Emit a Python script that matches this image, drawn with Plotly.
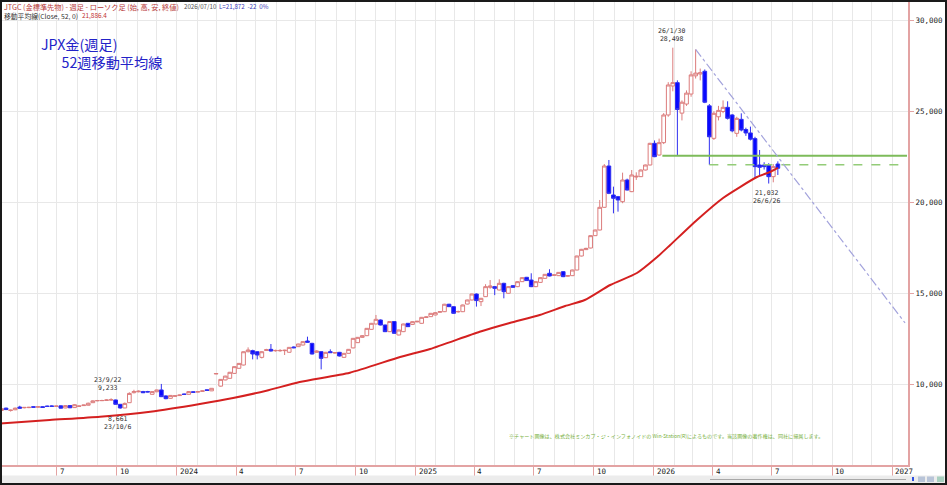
import plotly.graph_objects as go
import pandas as pd

# ---------------- data ----------------
weeks = pd.date_range("2023-04-07", periods=171, freq="W-FRI")

open_ = [
    8560, 8690, 8560, 8600, 8750, 8710, 8720, 8770, 8745, 8770,
    8800, 8810, 8790, 8815, 8700, 8830, 8720, 8790, 8830, 8850,
    8990, 9090, 9100, 9110, 9140, 9140, 8900, 8700, 8990, 9540,
    9590, 9600, 9600, 9450, 9590, 9690, 9360, 9230, 9340, 9380,
    9470, 9450, 9590, 9570, 9610, 9700, 9640, 10570, 9900, 10240,
    10330, 10600, 10880, 11060, 11790, 11850, 11790, 11480, 11860, 11920,
    11840, 11840, 11850, 11760, 12050, 12068, 12160, 12380, 12250, 11757,
    11794, 11464, 11794, 11720, 11757, 11482, 11702, 12000, 12288, 12580,
    12672, 13020, 13314, 13534, 13259, 12893, 13450, 12710, 12893, 13351,
    13290, 13430, 13351, 13670, 13717, 13810, 13960, 13990, 14400, 14266,
    13980, 13990, 14410, 14633, 14960, 14541, 14816, 15330, 15366, 15182,
    15549, 15000, 15420, 15366, 15640, 15880, 15730, 15366, 15600, 15823,
    16100, 15990, 15970, 16190, 15940, 15970, 16281, 17050, 17400, 17490,
    18168, 18479, 19725, 21996, 20403, 20311, 20036, 21226, 20586, 21390,
    21410, 21776, 22051, 23241, 22600, 23278, 24799, 26393, 26576, 24900,
    25400, 25950, 26950, 27050, 27200, 25300, 23516, 24700, 24990, 25220,
    24800, 23790, 24560, 24000, 23810, 23500, 22051, 22050, 22050, 21410,
    22106,
]
high = [
    8700, 8720, 8610, 8720, 8820, 8750, 8760, 8790, 8790, 8790,
    8830, 8840, 8820, 8840, 8860, 8850, 8910, 8830, 8870, 8990,
    9120, 9140, 9150, 9170, 9233, 9160, 8920, 9000, 9560, 9700,
    9660, 9640, 9640, 9620, 9700, 10020, 9400, 9400, 9390, 9430,
    9490, 9620, 9610, 9620, 9660, 9720, 9790, 10610, 10290, 10470,
    10680, 10980, 11170, 11800, 12030, 11900, 11820, 11820, 11950, 12215,
    11900, 11930, 11900, 12050, 12080, 12230, 12360, 12617, 12280, 11860,
    11820, 11780, 11920, 11770, 11780, 11720, 11940, 12540, 12600, 12700,
    13090, 13370, 13810, 13560, 13280, 13470, 13470, 13000, 13330, 13370,
    13460, 13490, 13700, 13730, 13920, 13960, 14010, 14420, 14420, 14290,
    14050, 14380, 14650, 14980, 14990, 14750, 15500, 15730, 15400, 15770,
    15580, 15390, 15450, 15660, 15880, 15900, 16100, 15660, 15880, 16060,
    16320, 16050, 16170, 16220, 16000, 16300, 17070, 17440, 17500, 18190,
    18500, 20128, 22100, 22326, 20861, 20350, 21630, 21300, 21776, 21650,
    21800, 22070, 23270, 23400, 23500, 24900, 26600, 28498, 26700, 25600,
    26150, 27200, 28400, 27350, 27300, 25400, 25000, 25300, 25600, 25550,
    24850, 24700, 24890, 24100, 24160, 23600, 22875, 22200, 22150, 22100,
    22250,
]
low = [
    8520, 8590, 8500, 8580, 8660, 8680, 8690, 8720, 8720, 8710,
    8770, 8770, 8760, 8670, 8690, 8690, 8700, 8770, 8810, 8840,
    8980, 9070, 9080, 9090, 9110, 8890, 8661, 8690, 8980, 9500,
    9560, 9520, 9560, 9440, 9570, 9300, 9180, 9210, 9320, 9360,
    9420, 9440, 9540, 9550, 9590, 9640, 9630, 10560, 9870, 10220,
    10310, 10580, 10860, 11040, 11760, 11370, 11370, 11420, 11830, 11800,
    11800, 11790, 11610, 11740, 11980, 12050, 12140, 12290, 11640, 11740,
    10820, 11440, 11720, 11690, 11530, 11460, 11690, 11980, 12270, 12560,
    12650, 13000, 13290, 13240, 12870, 12870, 12780, 12690, 12870, 13150,
    13270, 13410, 13330, 13650, 13700, 13790, 13940, 13970, 14250, 13880,
    13940, 13970, 14390, 14610, 14270, 14300, 14800, 15250, 14900, 15160,
    14725, 14980, 15300, 15340, 15620, 15680, 15340, 15340, 15580, 15800,
    15930, 15960, 15950, 15890, 15910, 15950, 16260, 17030, 17380, 17470,
    18150, 18460, 19700, 20450, 19395, 19487, 19950, 20650, 20560, 21230,
    21390, 21750, 22030, 22480, 22560, 23200, 24700, 26100, 22600, 24500,
    25300, 25800, 26800, 26700, 25450, 22060, 23425, 24500, 24900, 24550,
    23850, 23600, 23900, 23650, 23400, 21300, 21410, 21800, 21032, 21100,
    21502,
]
close = [
    8660, 8610, 8580, 8690, 8690, 8730, 8735, 8740, 8765, 8730,
    8785, 8790, 8805, 8690, 8830, 8710, 8880, 8805, 8860, 8960,
    9090, 9110, 9110, 9140, 9150, 8900, 8700, 8950, 9500, 9600,
    9620, 9540, 9580, 9600, 9690, 9320, 9210, 9390, 9370, 9410,
    9440, 9600, 9560, 9600, 9640, 9660, 9780, 10590, 10270, 10450,
    10660, 10970, 11150, 11790, 11885, 11665, 11610, 11790, 11900, 11830,
    11860, 11860, 11870, 12030, 12010, 12215, 12343, 12310, 11665, 11830,
    11427, 11757, 11740, 11740, 11555, 11702, 11922, 12526, 12580, 12672,
    13076, 13351, 13570, 13259, 12893, 13450, 12801, 12984, 13314, 13167,
    13442, 13460, 13680, 13700, 13900, 13937, 13990, 14400, 14266, 13900,
    14000, 14358, 14633, 14962, 14600, 14725, 15366, 15400, 15274, 15549,
    15090, 15366, 15330, 15640, 15860, 15700, 15366, 15640, 15860, 16043,
    15950, 16010, 16150, 15915, 15970, 16281, 17050, 17417, 17470, 18168,
    18479, 19725, 21996, 20495, 20220, 20128, 21226, 20677, 21502, 21430,
    21776, 22051, 23241, 22509, 23278, 24799, 26448, 26576, 25100, 25500,
    26000, 27000, 27100, 27120, 25500, 23600, 24890, 25050, 25220, 24616,
    23930, 24615, 23974, 23810, 23470, 21960, 21923, 21960, 21410, 21960,
    21872,
]

# 52-week moving average
ma_dates = ["2023-04-05", "2023-06-20", "2023-09-05", "2023-11-21", "2024-02-05",
            "2024-03-27", "2024-05-17", "2024-07-07", "2024-09-22", "2024-12-08",
            "2025-01-23", "2025-04-09", "2025-05-25", "2025-07-10", "2025-08-18",
            "2025-09-17", "2025-10-26", "2025-12-06", "2026-01-06", "2026-01-26",
            "2026-03-08", "2026-04-17", "2026-05-13", "2026-06-08", "2026-06-28",
            "2026-07-10"]
ma_values = [7846, 8038, 8220, 8494, 8918,
             9247, 9648, 10126, 10637, 11500,
             11940, 12890, 13370, 13810, 14300,
             14632, 15456, 16116, 16995, 17655,
             19030, 20240, 20840, 21390, 21665,
             21886]

# drawn lines (support levels and down trend line)
support_dates = ["2026-01-14", "2027-01-24"]
support_values = [22560, 22560]
support2_dates = ["2026-03-27", "2027-01-24"]
support2_values = [22060, 22060]
trend_dates = ["2026-03-06", "2027-01-21"]
trend_values = [28400, 13370]

# axis ticks
quarter_ticks = ["2023-07-01", "2023-10-01", "2024-01-01", "2024-04-01", "2024-07-01",
                 "2024-10-01", "2025-01-01", "2025-04-01", "2025-07-01", "2025-10-01",
                 "2026-01-01", "2026-04-01", "2026-07-01", "2026-10-01", "2027-01-01"]
quarter_labels = ["7", "10", "2024", "4", "7", "10", "2025", "4", "7", "10",
                  "2026", "4", "7", "10", "2027"]
month_ticks = [d.strftime("%Y-%m-%d") for d in pd.date_range("2023-05-01", "2027-01-01", freq="MS")]
price_ticks = [10000, 15000, 20000, 25000, 30000]

# ---------------- layout geometry ----------------
W, H = 947, 485
ML, MR, MT, MB = 0, 39, 1, 20
PW, PH = W - ML - MR, H - MT - MB


def fx(x):
    return (x - ML) / PW


def fy(y):
    return (H - MB - y) / PH


PINK = "#e3a3a3"
GRID = "#e8e8e8"

fig = go.Figure()

fig.add_trace(go.Scatter(x=support_dates, y=support_values, mode="lines",
                         line=dict(color="#7dbb5a", width=2), hoverinfo="skip", showlegend=False))
fig.add_trace(go.Scatter(x=support2_dates, y=support2_values, mode="lines",
                         line=dict(color="#93cc78", width=1.5, dash="dash"), hoverinfo="skip", showlegend=False))
fig.add_trace(go.Scatter(x=trend_dates, y=trend_values, mode="lines",
                         line=dict(color="#a3a3dc", width=1.2, dash="dashdot"), hoverinfo="skip", showlegend=False))

fig.add_trace(go.Candlestick(
    x=weeks, open=open_, high=high, low=low, close=close,
    increasing=dict(line=dict(color="#dc7c7c", width=1), fillcolor="#ffffff"),
    decreasing=dict(line=dict(color="#3030f0", width=1), fillcolor="#0808ff"),
    whiskerwidth=0, hoverinfo="skip", showlegend=False))

fig.add_trace(go.Scatter(x=ma_dates, y=ma_values, mode="lines",
                         line=dict(color="#d42020", width=2, shape="spline", smoothing=0.6),
                         hoverinfo="skip", showlegend=False))

annotations = []
# x-axis labels, left aligned right of each quarter tick
for d, t in zip(quarter_ticks, quarter_labels):
    annotations.append(dict(x=d, y=fy(471.5), xref="x", yref="paper", text=t, showarrow=False,
                            xanchor="left", yanchor="middle", xshift=1,
                            font=dict(family="DejaVu Sans Mono", size=7.5, color="#222222")))

label_font = dict(family="DejaVu Sans Mono", size=6.5, color="#333333")
annotations += [
    dict(x="2026-01-30", y=28498, text="26/1/30<br>28,498", showarrow=False,
         xanchor="center", yanchor="bottom", yshift=3, xshift=-1, font=label_font),
    dict(x="2026-06-26", y=21032, text="21,032<br>26/6/26", showarrow=False,
         xanchor="center", yanchor="top", yshift=-3, xshift=-2, font=label_font),
    dict(x="2023-09-22", y=9233, text="23/9/22<br>9,233", showarrow=False,
         xanchor="center", yanchor="bottom", yshift=4, xshift=-4, font=label_font),
    dict(x="2023-10-06", y=8661, text="8,661<br>23/10/6", showarrow=False,
         xanchor="center", yanchor="top", yshift=-4, xshift=-3, font=label_font),
]

# title: one two-line text block, second line indented
annotations.append(dict(
    x=fx(39), y=fy(53), xref="paper", yref="paper",
    text="JPX金(週足)<br>\u3000\u00a0\u00a052週移動平均線", showarrow=False,
    xanchor="left", yanchor="middle", align="left",
    font=dict(family="Noto Sans CJK JP", size=14.2, color="#2222c8")))

# header lines
hdr = dict(family="Noto Sans CJK JP", size=7.2)
annotations += [
    dict(x=fx(2), y=fy(6.7), xref="paper", yref="paper",
         text="JTGC (金標準先物) - 週足 - ローソク足 (始, 高, 安, 終値)", showarrow=False,
         xanchor="left", yanchor="middle", font=dict(hdr, color="#b83a3a")),
    dict(x=fx(182), y=fy(6.7), xref="paper", yref="paper", text="2026/07/10", showarrow=False,
         xanchor="left", yanchor="middle", font=dict(family="Noto Sans CJK JP", size=6.2, color="#505050")),
    dict(x=fx(217), y=fy(6.7), xref="paper", yref="paper", text="L=21,872  -22  0%", showarrow=False,
         xanchor="left", yanchor="middle", font=dict(family="Noto Sans CJK JP", size=6.2, color="#3a3ab8")),
    dict(x=fx(2), y=fy(15.5), xref="paper", yref="paper", text="移動平均線(Close, 52, 0)", showarrow=False,
         xanchor="left", yanchor="middle", font=dict(family="Noto Sans CJK JP", size=6.8, color="#303030")),
    dict(x=fx(80), y=fy(15.5), xref="paper", yref="paper", text="21,886.4", showarrow=False,
         xanchor="left", yanchor="middle", font=dict(family="Noto Sans CJK JP", size=6.4, color="#c03030")),
]

# footer credit
annotations.append(dict(
    x=fx(666), y=fy(436), xref="paper", yref="paper",
    text="※チャート画像は、株式会社ミンカブ・ジ・インフォノイドの Win-Station(R)によるものです。当該画像の著作権は、同社に帰属します。",
    showarrow=False, xanchor="center", yanchor="middle",
    font=dict(family="Noto Sans CJK JP", size=5.1, color="#78b040")))

shapes = [
    # bottom status strip
    dict(type="rect", xref="paper", yref="paper", x0=fx(0), x1=fx(W), y0=fy(H), y1=fy(475.5),
         fillcolor="#ececec", line=dict(width=0), layer="above"),
    dict(type="line", xref="paper", yref="paper", x0=fx(710), x1=fx(906), y0=fy(479.5), y1=fy(479.5),
         line=dict(color="#a8a8a8", width=1), layer="above"),
    dict(type="rect", xref="paper", yref="paper", x0=fx(912), x1=fx(914), y0=fy(481), y1=fy(477),
         fillcolor="#3050e0", line=dict(width=0), layer="above"),
    dict(type="rect", xref="paper", yref="paper", x0=fx(918), x1=fx(925), y0=fy(482), y1=fy(476.5),
         fillcolor="#b8c4d8", line=dict(width=0), layer="above"),
    dict(type="rect", xref="paper", yref="paper", x0=fx(927), x1=fx(934), y0=fy(482), y1=fy(476.5),
         fillcolor="#b8c4d8", line=dict(width=0), layer="above"),
    dict(type="rect", xref="paper", yref="paper", x0=fx(937), x1=fx(944), y0=fy(482), y1=fy(476.5),
         fillcolor="#a8d0c0", line=dict(width=0), layer="above"),
    # outer frame
    dict(type="rect", xref="paper", yref="paper", x0=fx(1), x1=fx(W - 1), y0=fy(H - 1), y1=fy(1),
         fillcolor="rgba(0,0,0,0)", line=dict(color="#1a1a1a", width=2), layer="above"),
]

fig.update_layout(
    width=W, height=H,
    margin=dict(l=ML, r=MR, t=MT, b=MB, pad=0),
    paper_bgcolor="#ffffff", plot_bgcolor="#ffffff",
    showlegend=False, hovermode=False,
    boxgap=0.1, boxgroupgap=0.1,
    annotations=annotations, shapes=shapes,
    xaxis=dict(
        type="date", range=["2023-04-04 17:00", "2027-01-25 12:00"],
        tickmode="array", tickvals=quarter_ticks, showticklabels=False,
        ticks="outside", ticklen=10, tickcolor=PINK, tickwidth=1,
        showgrid=True, gridcolor=GRID, gridwidth=1,
        minor=dict(tickmode="array", tickvals=month_ticks, showgrid=True, gridcolor=GRID, ticks=""),
        showline=True, linecolor=PINK, linewidth=2,
        zeroline=False, rangeslider=dict(visible=False), fixedrange=True,
    ),
    yaxis=dict(
        side="right", range=[5566, 31062],
        tickmode="array", tickvals=price_ticks, tickformat=",d",
        ticks="outside", ticklen=4, tickcolor=PINK, tickwidth=1,
        showgrid=True, gridcolor=GRID, gridwidth=1,
        showline=True, linecolor=PINK, linewidth=2,
        zeroline=False, automargin=False, fixedrange=True,
        tickfont=dict(family="DejaVu Sans Mono", size=7.5, color="#222222"),
    ),
)

fig.write_html("out.html")
